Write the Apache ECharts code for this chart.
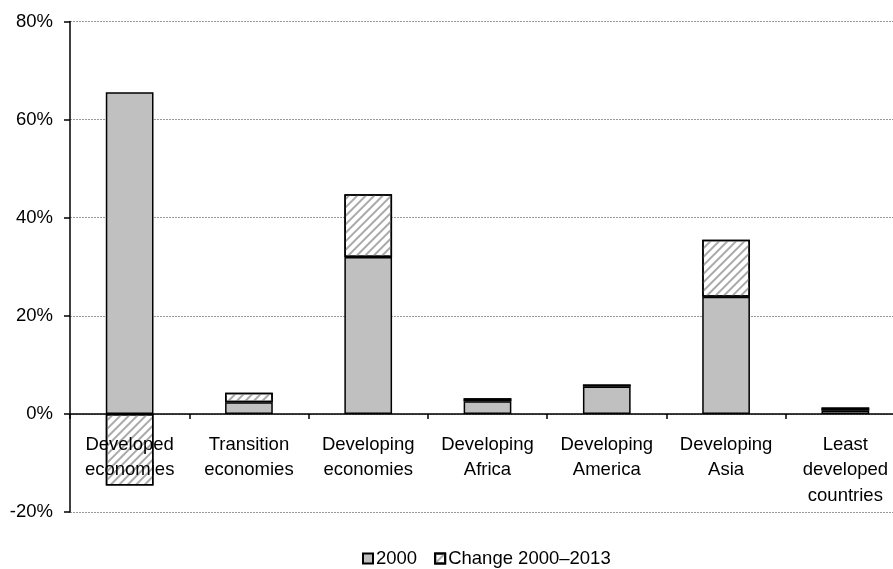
<!DOCTYPE html>
<html>
<head>
<meta charset="utf-8">
<script src="https://cdn.jsdelivr.net/npm/echarts@6/dist/echarts.min.js"></script>
<style>html,body{margin:0;padding:0;background:#fff;}#c{width:893px;height:569px;}</style>
</head>
<body>
<div id="c"></div>
<script>
const categories = ['Developed\neconomies', 'Transition\neconomies', 'Developing\neconomies', 'Developing\nAfrica', 'Developing\nAmerica', 'Developing\nAsia', 'Least\ndeveloped\ncountries'];
const values2000 = [65.6, 2.4, 32.0, 2.6, 5.6, 23.9, 0.7];
const valuesChange = [-14.6, 1.9, 12.8, 0.6, 0.4, 11.6, 0.6];
const seriesNames = ['2000', 'Change 2000\u20132013'];
const yTicks = { min: -20, max: 80, interval: 20 };

const chart = echarts.init(document.getElementById('c'), null, { renderer: 'canvas' });
const font = 'Liberation Sans, Arial, sans-serif';
const hatch = { symbol: 'rect', symbolSize: 1, dashArrayX: [1, 0], dashArrayY: [1.5, 3.5], rotation: -Math.PI / 4, color: '#aaa' };
chart.setOption({
  animation: false,
  backgroundColor: '#fff',
  grid: { left: 70, top: 21.5, bottom: 57, right: -12, containLabel: false, outerBoundsMode: 'none' },
  legend: {
    top: 549,
    left: 362,
    icon: 'rect',
    itemWidth: 10,
    itemHeight: 10,
    itemGap: 17,
    padding: 0,
    textStyle: { fontFamily: font, fontSize: 18.5, color: '#000', padding: [0, 0, 0, -2] },
    data: seriesNames
  },
  xAxis: {
    type: 'category',
    data: categories,
    z: 10,
    axisLine: { onZero: true, lineStyle: { color: '#000', width: 1.5 } },
    axisTick: { show: true, length: 5, inside: false, alignWithLabel: false, lineStyle: { color: '#000', width: 1.5 } },
    axisLabel: { fontFamily: font, fontSize: 18.5, color: '#000', lineHeight: 25.5, margin: -80, interval: 0 },
    splitLine: { show: false }
  },
  yAxis: {
    type: 'value',
    min: yTicks.min, max: yTicks.max, interval: yTicks.interval,
    axisLine: { show: true, onZero: false, lineStyle: { color: '#000', width: 1.5 } },
    axisTick: { show: true, length: 6, lineStyle: { color: '#000', width: 1.5 } },
    axisLabel: { fontFamily: font, fontSize: 18.5, color: '#000', formatter: '{value}%', margin: 17 },
    splitLine: { show: true, lineStyle: { color: '#999', width: 1, type: [2, 1] } }
  },
  series: [
    {
      name: seriesNames[0], type: 'bar', stack: 'a', data: values2000, barWidth: '40%',
      itemStyle: { color: '#c0c0c0', borderColor: '#000', borderWidth: 1.5 }
    },
    {
      name: seriesNames[1], type: 'bar', stack: 'a', data: valuesChange, barWidth: '40%',
      itemStyle: { color: '#fff', borderColor: '#000', borderWidth: 1.5, decal: hatch }
    }
  ]
});
</script>
</body>
</html>
